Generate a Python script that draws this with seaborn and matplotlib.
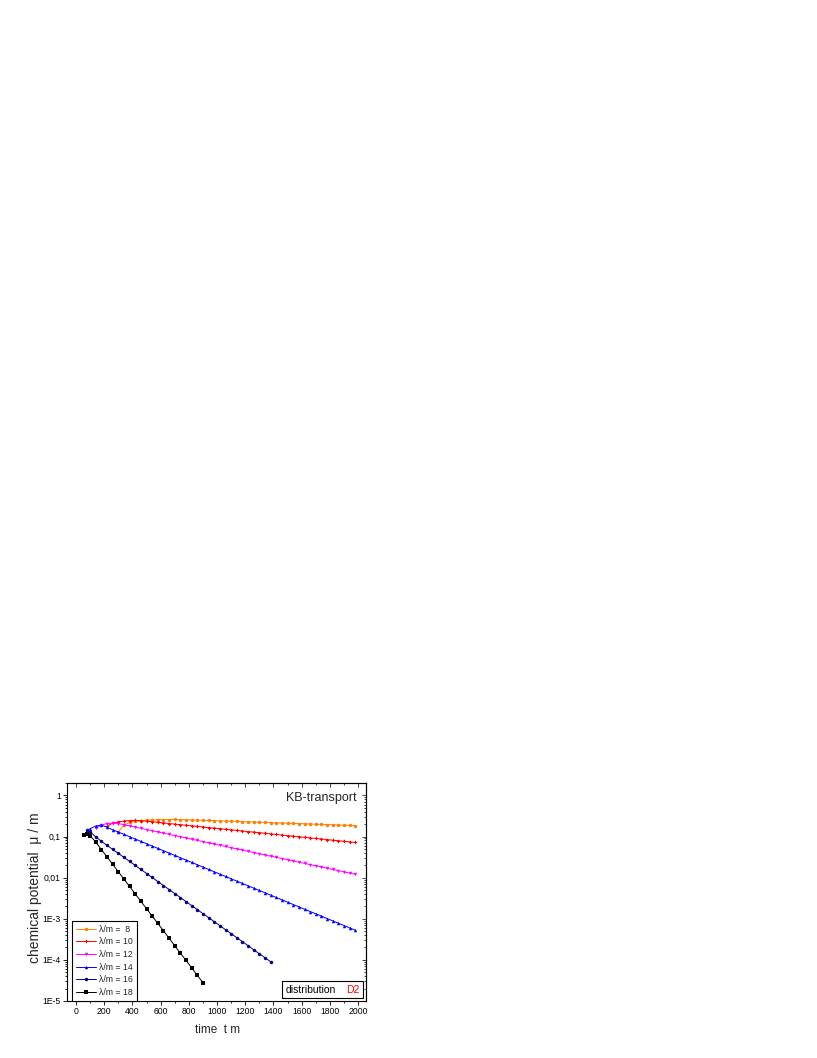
import numpy as np
import pandas as pd
import matplotlib
matplotlib.use('Agg')
import matplotlib.pyplot as plt
import seaborn as sns
from matplotlib.ticker import FixedLocator, LogLocator, MultipleLocator, NullFormatter
from matplotlib.offsetbox import TextArea, HPacker, AnchoredOffsetbox

# 读取自图中的数据 (time t*m, chemical potential mu/m)
t_l8 = [300, 340, 380, 420, 460, 500, 540, 580, 620, 660, 700, 740, 780, 820, 860, 900,
        940, 980, 1020, 1060, 1100, 1140, 1180, 1220, 1260, 1300, 1340, 1380, 1420, 1460,
        1500, 1540, 1580, 1620, 1660, 1700, 1740, 1780, 1820, 1860, 1900, 1940, 1980]
mu_l8 = [0.13, 0.19, 0.22, 0.235, 0.243, 0.249, 0.253, 0.256, 0.258, 0.259, 0.260, 0.259,
         0.256, 0.253, 0.251, 0.248, 0.245, 0.243, 0.240, 0.238, 0.235, 0.233, 0.230, 0.228,
         0.225, 0.223, 0.220, 0.218, 0.215, 0.213, 0.211, 0.208, 0.206, 0.204, 0.201, 0.199,
         0.197, 0.195, 0.193, 0.190, 0.188, 0.186, 0.184]

t_l10 = [220, 260, 300, 340, 380, 420, 460, 500, 540, 580, 620, 660, 700, 740, 780, 820,
         860, 900, 940, 980, 1020, 1060, 1100, 1140, 1180, 1220, 1260, 1300, 1340, 1380,
         1420, 1460, 1500, 1540, 1580, 1620, 1660, 1700, 1740, 1780, 1820, 1860, 1900,
         1940, 1980]
mu_l10 = [0.18, 0.21, 0.228, 0.238, 0.244, 0.245, 0.243, 0.235, 0.228, 0.221, 0.214, 0.207,
          0.200, 0.194, 0.188, 0.182, 0.176, 0.171, 0.165, 0.160, 0.155, 0.150, 0.145, 0.141,
          0.136, 0.132, 0.128, 0.124, 0.120, 0.116, 0.112, 0.109, 0.105, 0.102, 0.0988,
          0.0957, 0.0927, 0.0897, 0.0869, 0.0842, 0.0815, 0.0789, 0.0764, 0.0740, 0.0717]

t_l12 = [140, 180, 220, 260, 300, 340, 380, 420, 460, 500, 540, 580, 620, 660, 700, 740,
         780, 820, 860, 900, 940, 980, 1020, 1060, 1100, 1140, 1180, 1220, 1260, 1300,
         1340, 1380, 1420, 1460, 1500, 1540, 1580, 1620, 1660, 1700, 1740, 1780, 1820,
         1860, 1900, 1940, 1980]
mu_l12 = [0.16, 0.19, 0.207, 0.212, 0.207, 0.193, 0.181, 0.169, 0.158, 0.148, 0.138, 0.129,
          0.121, 0.113, 0.105, 0.0984, 0.0920, 0.0860, 0.0803, 0.0751, 0.0701, 0.0655,
          0.0612, 0.0572, 0.0535, 0.0500, 0.0467, 0.0436, 0.0408, 0.0381, 0.0356, 0.0333,
          0.0311, 0.0291, 0.0272, 0.0254, 0.0237, 0.0222, 0.0207, 0.0194, 0.0181, 0.0169,
          0.0158, 0.0148, 0.0138, 0.0129, 0.0121]

t_l14 = [80, 100, 140, 180, 220, 260, 300, 340, 380, 420, 460, 500, 540, 580, 620, 660,
         700, 740, 780, 820, 860, 900, 940, 980, 1020, 1060, 1100, 1140, 1180, 1220, 1260,
         1300, 1340, 1380, 1420, 1460, 1500, 1540, 1580, 1620, 1660, 1700, 1740, 1780,
         1820, 1860, 1900, 1940, 1980]
mu_l14 = [0.14, 0.155, 0.18, 0.190, 0.167, 0.146, 0.128, 0.113, 0.0989, 0.0868, 0.0761,
          0.0668, 0.0586, 0.0514, 0.0451, 0.0396, 0.0347, 0.0305, 0.0267, 0.0235, 0.0206,
          0.0181, 0.0158, 0.0139, 0.0122, 0.0107, 0.00938, 0.00823, 0.00722, 0.00634,
          0.00556, 0.00488, 0.00428, 0.00375, 0.00329, 0.00289, 0.00254, 0.00222, 0.00195,
          0.00171, 0.00150, 0.00132, 0.00116, 0.00101, 8.89e-4, 7.80e-4, 6.84e-4, 6.00e-4,
          5.27e-4]

t_l16 = [80, 100, 140, 180, 220, 260, 300, 340, 380, 420, 460, 500, 540, 580, 620, 660,
         700, 740, 780, 820, 860, 900, 940, 980, 1020, 1060, 1100, 1140, 1180, 1220, 1260,
         1300, 1340, 1380]
mu_l16 = [0.14, 0.13, 0.098, 0.0762, 0.0608, 0.0486, 0.0388, 0.0310, 0.0248, 0.0198, 0.0158,
          0.0126, 0.0101, 0.00805, 0.00643, 0.00514, 0.00410, 0.00328, 0.00262, 0.00209,
          0.00167, 0.00133, 0.00107, 8.51e-4, 6.80e-4, 5.43e-4, 4.34e-4, 3.46e-4, 2.77e-4,
          2.21e-4, 1.76e-4, 1.41e-4, 1.13e-4, 9.0e-5]

t_l18 = [60, 80, 100, 140, 180, 220, 260, 300, 340, 380, 420, 460, 500, 540, 580, 620, 660,
         700, 740, 780, 820, 860, 900]
mu_l18 = [0.108, 0.115, 0.105, 0.073, 0.048, 0.032, 0.021, 0.0139, 0.0092, 0.0061, 0.0040,
          0.00265, 0.00175, 0.00116, 7.7e-4, 5.1e-4, 3.35e-4, 2.2e-4, 1.46e-4, 9.7e-5,
          6.4e-5, 4.2e-5, 2.8e-5]

labels = ['λ/m =  8', 'λ/m = 10', 'λ/m = 12', 'λ/m = 14', 'λ/m = 16', 'λ/m = 18']
colors = ['#FF8000', '#FF0000', '#FF00FF', '#0000FF', '#000080', '#000000']
markers = ['o', 'P', 'v', '^', 'o', 's']
y_ticks = [1e-5, 1e-4, 1e-3, 1e-2, 1e-1, 1]
y_ticklabels = ['1E-5', '1E-4', '1E-3', '0,01', '0,1', '1']

series = [(t_l8, mu_l8), (t_l10, mu_l10), (t_l12, mu_l12),
          (t_l14, mu_l14), (t_l16, mu_l16), (t_l18, mu_l18)]
df = pd.concat([pd.DataFrame({'t': t, 'mu': mu, 'label': lab})
                for (t, mu), lab in zip(series, labels)], ignore_index=True)

sns.set_theme(style='ticks')
plt.rcParams['font.family'] = ['Liberation Sans', 'DejaVu Sans']
plt.rcParams['axes.linewidth'] = 0.8

fig = plt.figure(figsize=(8.17, 10.58), dpi=100)
ax = fig.add_axes([67 / 817, 57 / 1058, 299 / 817, 218 / 1058])

sns.lineplot(data=df, x='t', y='mu', hue='label', style='label', hue_order=labels,
             style_order=labels, palette=dict(zip(labels, colors)),
             markers=dict(zip(labels, markers)), dashes=False, sort=False,
             estimator=None, linewidth=0.7, markersize=2.5, markeredgewidth=0,
             ax=ax)

ax.set_yscale('log')
ax.set_xlim(-64, 2056)
ax.set_ylim(1e-5, 2)

ax.xaxis.set_major_locator(MultipleLocator(200))
ax.xaxis.set_minor_locator(MultipleLocator(100))
ax.yaxis.set_major_locator(FixedLocator(y_ticks))
ax.set_yticklabels(y_ticklabels)
ax.yaxis.set_minor_locator(LogLocator(base=10, subs=np.arange(2, 10)))
ax.yaxis.set_minor_formatter(NullFormatter())
ax.tick_params(which='both', direction='out', labelsize=6.2, width=0.6, pad=1.5,
               colors='black')
ax.tick_params(which='major', length=3)
ax.tick_params(which='minor', length=1.6)
for s in ax.spines.values():
    s.set_color('black')

# 顶部和右侧刻度朝内
top = ax.secondary_xaxis('top')
top.xaxis.set_major_locator(MultipleLocator(200))
top.xaxis.set_minor_locator(MultipleLocator(100))
top.tick_params(which='both', direction='in', labeltop=False, width=0.6)
top.tick_params(which='major', length=3)
top.tick_params(which='minor', length=1.6)
right = ax.secondary_yaxis('right')
right.yaxis.set_major_locator(FixedLocator(y_ticks))
right.yaxis.set_minor_locator(LogLocator(base=10, subs=np.arange(2, 10)))
right.tick_params(which='both', direction='in', labelright=False, width=0.6)
right.tick_params(which='major', length=3)
right.tick_params(which='minor', length=1.6)

ax.set_xlabel('time  t m', fontsize=8.5)
ax.set_ylabel('chemical potential  μ / m', fontsize=10)
ax.xaxis.set_label_coords(0.503, -0.105)
ax.yaxis.set_label_coords(-0.085, 0.52)

handles, labs = ax.get_legend_handles_labels()
leg = ax.legend(handles, labs, loc='lower left', bbox_to_anchor=(0.017, 0.0),
                borderaxespad=0, fontsize=6.3, frameon=True, fancybox=False,
                edgecolor='black', framealpha=1, borderpad=0.45, labelspacing=0.42,
                handlelength=2.3, handletextpad=0.3)
leg.get_frame().set_linewidth(0.8)

ax.text(0.97, 0.93, 'KB-transport', transform=ax.transAxes, ha='right', va='center',
        fontsize=9)

box = HPacker(children=[TextArea('distribution', textprops=dict(color='black', size=7.5)),
                        TextArea('D2', textprops=dict(color='red', size=7.5))],
              sep=7, pad=0, align='baseline')
anch = AnchoredOffsetbox(loc='lower right', child=box, frameon=True, pad=0.25,
                         borderpad=0, bbox_to_anchor=(0.99, 0.012),
                         bbox_transform=ax.transAxes)
anch.patch.set_boxstyle('square', pad=0)
anch.patch.set_edgecolor('black')
anch.patch.set_linewidth(0.8)
ax.add_artist(anch)

fig.savefig('out.png', dpi=100)
plt.close(fig)
